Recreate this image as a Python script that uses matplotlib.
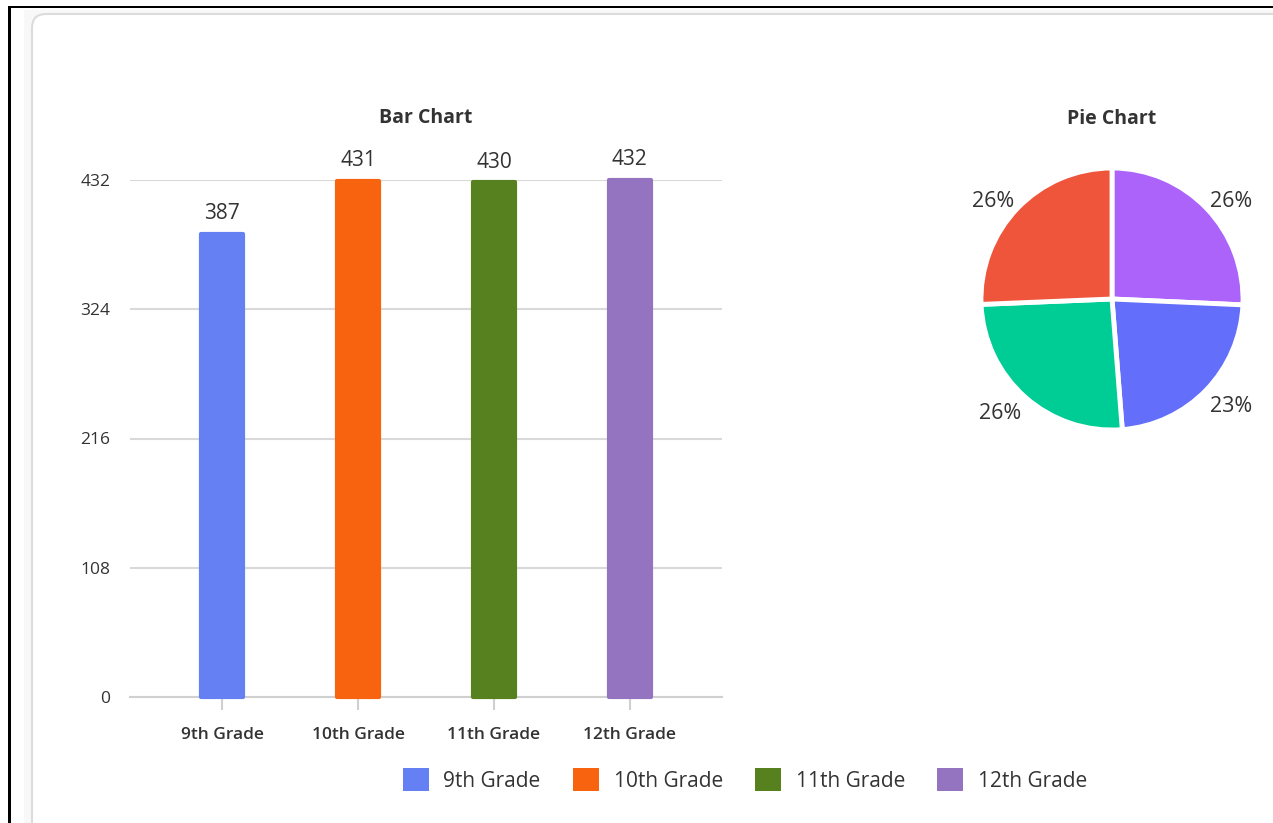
import matplotlib

matplotlib.use("Agg")
import matplotlib.pyplot as plt
import numpy as np
from matplotlib.patches import Rectangle, FancyBboxPatch
from matplotlib.transforms import IdentityTransform

# data
grades = ["9th Grade", "10th Grade", "11th Grade", "12th Grade"]
students = [387, 431, 430, 432]
bar_colors = ["#6580F2", "#F7630F", "#56811E", "#9474C0"]
y_ticks = [0, 108, 216, 324, 432]

# pie order as drawn (clockwise from 12 o'clock)
pie_order = [3, 0, 2, 1]
pie_colors = ["#AB63FA", "#636EFA", "#00CC96", "#EF553B"]

plt.rcParams["font.family"] = ["Open Sans", "DejaVu Sans"]
text_color = "#333333"

W, H = 1273, 823
fig = plt.figure(figsize=(W / 100, H / 100), dpi=100)
fig.patch.set_facecolor("white")


def px(x0, y0, x1, y1):
    # pixel box (top-left origin) -> figure fraction [l, b, w, h]
    return [x0 / W, 1 - y1 / H, (x1 - x0) / W, (y1 - y0) / H]


# page decorations: light margin, black frame and card
fig.patches.append(Rectangle((24, 0), W, H - 10, transform=IdentityTransform(),
                             facecolor="#f8f8f8", edgecolor="none", zorder=-3))
fig.patches.append(FancyBboxPatch((32, -40), W + 40, H - 14 + 40,
                                  boxstyle="round,pad=0,rounding_size=14",
                                  transform=IdentityTransform(),
                                  facecolor="white", edgecolor="#dcdcdc",
                                  linewidth=1.5, zorder=-2))
fig.patches.append(Rectangle((8, H - 8), W, 2, transform=IdentityTransform(),
                             facecolor="black", edgecolor="none", zorder=-1))
fig.patches.append(Rectangle((8, 0), 2.5, H - 6, transform=IdentityTransform(),
                             facecolor="black", edgecolor="none", zorder=-1))

# bar chart
ax = fig.add_axes(px(130, 180, 722, 697))
ax.set_zorder(2)
ax.set_facecolor("none")
x = list(range(len(grades)))
bars = ax.bar(x, students, width=0.31, color=bar_colors, edgecolor=bar_colors,
              linewidth=3, joinstyle="round", zorder=3, clip_on=False)
for xi, v in zip(x, students):
    ax.annotate(str(v), (xi, v), xytext=(0, 7), textcoords="offset points",
                ha="center", va="bottom", fontsize=15, fontweight="medium",
                color=text_color, annotation_clip=False)
ax.set_xlim(-0.68, 3.68)
ax.set_ylim(0, 432)
ax.set_yticks(y_ticks)
ax.set_yticklabels([str(t) for t in y_ticks], fontsize=12.5,
                   fontweight="medium", color=text_color)
ax.set_xticks(x)
ax.set_xticklabels(grades, fontsize=12.5, fontweight="semibold", color=text_color)
ax.grid(axis="y", color="#d9d9d9", linewidth=1.5, zorder=0)
for side in ["top", "right", "left"]:
    ax.spines[side].set_visible(False)
ax.spines["bottom"].set_color("#d0d0d0")
ax.spines["bottom"].set_linewidth(1.5)
ax.tick_params(axis="y", length=0, pad=14)
ax.tick_params(axis="x", length=9, width=1.5, color="#d0d0d0", pad=12.5)
fig.text(426 / W, 1 - 118 / H, "Bar Chart", ha="center", va="center",
         fontsize=14, fontweight="bold", color=text_color)

# pie chart
pax = fig.add_axes(px(1112 - 131, 299 - 131, 1112 + 131, 299 + 131))
pax.set_zorder(2)
pie_vals = [students[i] for i in pie_order]
wedges, _, pct_texts = pax.pie(
    pie_vals, colors=pie_colors, startangle=90, counterclock=False,
    radius=1, autopct="%.0f%%", pctdistance=1.2,
    wedgeprops=dict(edgecolor="white", linewidth=3.5),
    textprops=dict(fontsize=15.5, fontweight="medium", color=text_color))
# labels sit just outside the rim, pushed out by half their box size
for w, t in zip(wedges, pct_texts):
    ang = np.deg2rad((w.theta1 + w.theta2) / 2)
    c, s = np.cos(ang), np.sin(ang)
    t.set_position((1.02 * c + np.sign(c) * 0.175,
                    1.02 * s + np.sign(s) * 0.075 - 0.035))
    t.set_clip_on(False)
pax.set_xlim(-1, 1)
pax.set_ylim(-1, 1)
pax.set_aspect("equal")
fig.text(1112 / W, 1 - 119 / H, "Pie Chart", ha="center", va="center",
         fontsize=14, fontweight="bold", color=text_color)

# legend
handles = [Rectangle((0, 0), 1, 1, facecolor=c, edgecolor="none") for c in bar_colors]
fig.legend(handles, grades, loc="center", bbox_to_anchor=(745 / W, 1 - 780 / H),
           ncol=4, frameon=False, fontsize=15, handlelength=1.25, handleheight=1.25,
           handletextpad=0.7, columnspacing=1.55, labelcolor=text_color)

fig.savefig("out.png", dpi=100, facecolor="white")
